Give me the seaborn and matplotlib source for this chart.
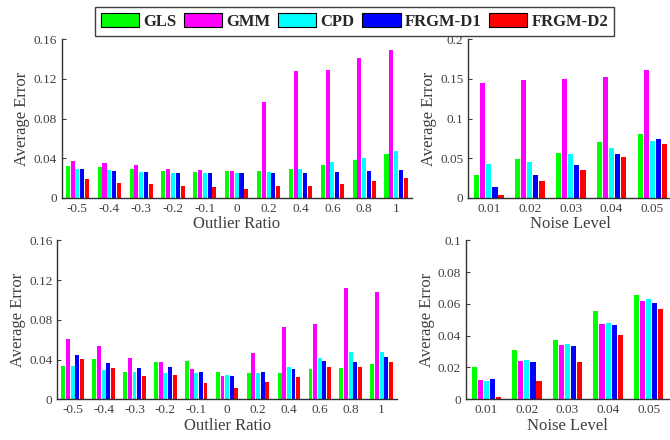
import pandas as pd
import matplotlib
matplotlib.use("Agg")
import matplotlib.pyplot as plt
from matplotlib.patches import Patch
import seaborn as sns

# Methods and colours
methods = ["GLS", "GMM", "CPD", "FRGM-D1", "FRGM-D2"]
colors = ["#00ff00", "#ff00ff", "#00ffff", "#0000ff", "#ff0000"]

# Outlier ratio experiments
outlier_ratio = ["-0.5", "-0.4", "-0.3", "-0.2", "-0.1", "0", "0.2", "0.4", "0.6", "0.8", "1"]
outlier_top = {
    "GLS":     [0.032, 0.031, 0.029, 0.027, 0.026, 0.027, 0.027, 0.029, 0.033, 0.038, 0.044],
    "GMM":     [0.037, 0.035, 0.033, 0.029, 0.028, 0.027, 0.097, 0.128, 0.129, 0.141, 0.149],
    "CPD":     [0.029, 0.028, 0.026, 0.025, 0.025, 0.025, 0.026, 0.029, 0.036, 0.040, 0.047],
    "FRGM-D1": [0.029, 0.027, 0.026, 0.025, 0.025, 0.025, 0.025, 0.025, 0.026, 0.027, 0.028],
    "FRGM-D2": [0.019, 0.015, 0.014, 0.012, 0.011, 0.009, 0.012, 0.012, 0.014, 0.017, 0.020],
}
outlier_bottom = {
    "GLS":     [0.0335, 0.0406, 0.0275, 0.0376, 0.0386, 0.0275, 0.0265, 0.0265, 0.0305, 0.031, 0.0356],
    "GMM":     [0.0607, 0.0537, 0.0416, 0.0376, 0.0305, 0.0235, 0.0466, 0.0728, 0.0758, 0.112, 0.108],
    "CPD":     [0.0335, 0.0295, 0.0275, 0.0265, 0.0265, 0.0245, 0.0265, 0.0325, 0.0416, 0.0476, 0.0476],
    "FRGM-D1": [0.0446, 0.0366, 0.0315, 0.0325, 0.0275, 0.0235, 0.0275, 0.0305, 0.0386, 0.0376, 0.0426],
    "FRGM-D2": [0.0406, 0.0315, 0.0235, 0.0245, 0.0164, 0.0114, 0.0174, 0.0225, 0.0325, 0.0325, 0.0376],
}

# Noise level experiments
noise_level = ["0.01", "0.02", "0.03", "0.04", "0.05"]
noise_top = {
    "GLS":     [0.0286, 0.0488, 0.0564, 0.0703, 0.0804],
    "GMM":     [0.145, 0.1486, 0.150, 0.1524, 0.161],
    "CPD":     [0.0425, 0.045, 0.0552, 0.0627, 0.0716],
    "FRGM-D1": [0.0135, 0.0286, 0.0413, 0.0552, 0.0741],
    "FRGM-D2": [0.0034, 0.021, 0.035, 0.0514, 0.0678],
}
noise_bottom = {
    "GLS":     [0.0203, 0.031, 0.0373, 0.0556, 0.0656],
    "GMM":     [0.0122, 0.0241, 0.0342, 0.0474, 0.0618],
    "CPD":     [0.0115, 0.0247, 0.0348, 0.048, 0.0631],
    "FRGM-D1": [0.0128, 0.0235, 0.0335, 0.0467, 0.0606],
    "FRGM-D2": [0.0015, 0.0115, 0.0235, 0.0405, 0.0568],
}

sns.set_style("ticks")
plt.rcParams["font.family"] = ["Liberation Serif", "DejaVu Serif"]
text_color = "#404040"


def to_long(cats, values):
    rows = []
    for m in methods:
        for c, v in zip(cats, values[m]):
            rows.append({"cat": c, "method": m, "value": v})
    return pd.DataFrame(rows)


def draw(ax, cats, values, yticks, yticklabels, xlabel):
    df = to_long(cats, values)
    sns.barplot(data=df, x="cat", y="value", hue="method", order=cats,
                hue_order=methods, palette=colors, saturation=1,
                width=0.75, gap=0.15, linewidth=0, legend=False, ax=ax)
    ax.set_xlim(-0.5, len(cats) - 0.5)
    ax.set_ylim(yticks[0], yticks[-1])
    ax.set_yticks(yticks)
    ax.set_yticklabels(yticklabels)
    ax.set_xlabel(xlabel, fontsize=12, color=text_color, labelpad=1)
    ax.set_ylabel("Average Error", fontsize=12, color=text_color, labelpad=2)
    ax.tick_params(direction="in", length=3, width=0.8, labelsize=9.5,
                   colors=text_color, pad=3.5)
    ax.tick_params(axis="x", length=0)
    for s in ["top", "right"]:
        ax.spines[s].set_visible(False)
    for s in ["left", "bottom"]:
        ax.spines[s].set_color("#303030")
        ax.spines[s].set_linewidth(1.0)


fig = plt.figure(figsize=(6.7, 4.4), dpi=100)
ax_tl = fig.add_axes([0.0918, 0.55, 0.5231, 0.3607])
ax_tr = fig.add_axes([0.699, 0.55, 0.3054, 0.3607])
ax_bl = fig.add_axes([0.0855, 0.0925, 0.507, 0.3614])
ax_br = fig.add_axes([0.6955, 0.0925, 0.303, 0.3614])

draw(ax_tl, outlier_ratio, outlier_top, [0, 0.04, 0.08, 0.12, 0.16],
     ["0", "0.04", "0.08", "0.12", "0.16"], "Outlier Ratio")
draw(ax_tr, noise_level, noise_top, [0, 0.05, 0.1, 0.15, 0.2],
     ["0", "0.05", "0.1", "0.15", "0.2"], "Noise Level")
draw(ax_bl, outlier_ratio, outlier_bottom, [0, 0.04, 0.08, 0.12, 0.16],
     ["0", "0.04", "0.08", "0.12", "0.16"], "Outlier Ratio")
draw(ax_br, noise_level, noise_bottom, [0, 0.02, 0.04, 0.06, 0.08, 0.1],
     ["0", "0.02", "0.04", "0.06", "0.08", "0.1"], "Noise Level")

handles = [Patch(facecolor=c, edgecolor="black", linewidth=0.8) for c in colors]
leg = fig.legend(handles, methods, loc="upper center", bbox_to_anchor=(0.529, 0.983),
                 ncol=5, prop={"family": "Liberation Serif", "weight": "bold", "size": 12},
                 handlelength=2.3, handleheight=0.9, handletextpad=0.25,
                 columnspacing=0.45, borderpad=0.35, fancybox=False,
                 framealpha=1, edgecolor="#404040", borderaxespad=0)
leg.get_frame().set_linewidth(1.0)

fig.savefig("out.png", dpi=100)
